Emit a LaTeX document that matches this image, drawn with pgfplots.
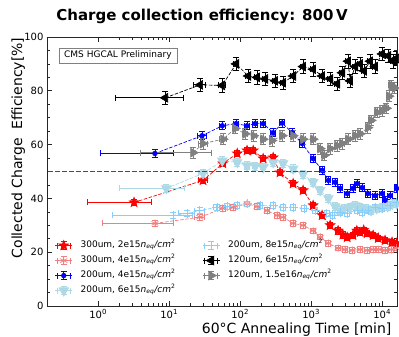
\documentclass[border=0pt]{standalone}
\usepackage{pgfplots}
\pgfplotsset{compat=1.18}
\usepackage{pgfplotstable}
\usepackage{fontspec}
\setmainfont{DejaVu Sans}
\usetikzlibrary{plotmarks}

\definecolor{cRed}{HTML}{FF0000}
\definecolor{cCoral}{HTML}{F08080}
\definecolor{cBlue}{HTML}{0000FF}
\definecolor{cLBlue}{HTML}{ADD8E6}
\definecolor{cSky}{HTML}{87CEFA}
\definecolor{cGrey}{HTML}{808080}

% filled five-pointed star
\pgfdeclareplotmark{fstar}{%
  \pgfpathmoveto{\pgfpointpolar{90}{\pgfplotmarksize}}%
  \pgfpathlineto{\pgfpointpolar{126}{0.42\pgfplotmarksize}}%
  \pgfpathlineto{\pgfpointpolar{162}{\pgfplotmarksize}}%
  \pgfpathlineto{\pgfpointpolar{198}{0.42\pgfplotmarksize}}%
  \pgfpathlineto{\pgfpointpolar{234}{\pgfplotmarksize}}%
  \pgfpathlineto{\pgfpointpolar{270}{0.42\pgfplotmarksize}}%
  \pgfpathlineto{\pgfpointpolar{306}{\pgfplotmarksize}}%
  \pgfpathlineto{\pgfpointpolar{342}{0.42\pgfplotmarksize}}%
  \pgfpathlineto{\pgfpointpolar{18}{\pgfplotmarksize}}%
  \pgfpathlineto{\pgfpointpolar{54}{0.42\pgfplotmarksize}}%
  \pgfpathclose
  \pgfusepathqfillstroke}

% one dash of the reference level: a filled 5pt x 1.5pt bar
\pgfdeclareplotmark{dashseg}{%
  \pgfpathrectangle{\pgfpoint{-2.5pt}{-0.75pt}}{\pgfpoint{5pt}{1.5pt}}%
  \pgfusepathqfill}

\newcommand{\flu}{\textit{n}\textsubscript{\textit{eq}}\textit{/cm}\textsuperscript{2}}

% annealing time [min], efficiency [%], relative time uncertainty
\pgfplotstableread{
t v ex
3.2 38.5 0.78
30 46.7 0.15
57 53.0 0.10
91 56.7 0.08
125 57.8 0.08
153 57.8 0.08
211 54.8 0.08
292 55.2 0.08
364 49.6 0.08
558 45.5 0.08
771 43.0 0.08
1067 37.4 0.08
1428 33.7 0.08
1853 30.0 0.08
2396 28.0 0.08
2800 26.5 0.08
3220 25.5 0.08
3880 26.3 0.08
4400 28.0 0.08
4900 27.4 0.08
5500 28.2 0.08
6150 27.0 0.08
7470 26.3 0.08
8820 25.2 0.08
11000 24.4 0.08
13800 23.7 0.08
16000 23.3 0.08
}\tRedA

\pgfplotstableread{
t v ex
6.3 30.7 0.82
27 33.0 0.15
57 36.3 0.10
80 36.7 0.08
125 38.0 0.08
173 37.0 0.08
240 35.5 0.08
332 33.7 0.08
403 33.0 0.08
558 30.7 0.08
771 30.0 0.08
1067 28.0 0.08
1340 25.6 0.08
1750 23.3 0.08
2400 21.5 0.08
3000 21.0 0.08
3800 20.7 0.08
4900 21.0 0.08
6150 20.7 0.08
7470 21.0 0.08
9000 21.0 0.08
11000 20.7 0.08
13500 21.0 0.08
16000 21.5 0.08
}\tCoral

\pgfplotstableread{
t v ex
6.3 56.7 0.83
29 63.3 0.15
56 67.0 0.10
88 67.8 0.08
125 67.0 0.08
163 67.8 0.08
211 67.8 0.08
292 64.4 0.08
391 68.0 0.08
540 64.4 0.08
747 60.4 0.08
1067 54.8 0.08
1428 50.4 0.08
1750 46.7 0.08
2178 46.0 0.08
2560 43.7 0.08
3220 41.8 0.08
3880 43.7 0.08
4445 45.5 0.08
5220 44.0 0.08
6300 41.8 0.08
7960 41.0 0.08
10000 41.8 0.08
10950 39.3 0.08
12900 41.0 0.08
16000 43.7 0.08
}\tBlue

\pgfplotstableread{
t v ex
9.1 43.7 0.78
30 49.3 0.15
56 54.0 0.10
91 53.4 0.08
125 52.2 0.08
163 52.0 0.08
211 51.5 0.08
292 53.4 0.08
403 53.0 0.08
558 51.0 0.08
771 49.0 0.08
1067 46.0 0.08
1340 43.0 0.08
1750 40.0 0.08
2180 37.0 0.08
2560 35.5 0.08
2900 36.3 0.08
3500 36.7 0.08
4200 37.4 0.08
4900 36.7 0.08
5900 36.3 0.08
7000 35.5 0.08
8400 36.3 0.08
10000 36.7 0.08
12000 37.0 0.08
14000 38.0 0.08
16000 38.0 0.08
}\tLBlue

\pgfplotstableread{
t v ex
11.3 33.7 0.86
18 34.4 0.25
27 35.5 0.15
47 36.7 0.10
66 37.0 0.08
91 37.4 0.08
125 38.0 0.08
190 37.4 0.08
292 37.4 0.08
403 36.7 0.08
558 36.7 0.08
800 36.3 0.08
1150 35.5 0.08
1650 34.4 0.08
2000 33.7 0.08
2560 34.8 0.08
3220 34.4 0.08
4445 35.5 0.08
5220 34.8 0.08
6300 35.5 0.08
7960 36.7 0.08
10000 36.3 0.08
12900 37.4 0.08
16000 38.5 0.08
}\tSky

\pgfplotstableread{
t v ex
8.8 77.4 0.80
27.3 82.2 0.20
55.8 82.0 0.12
87.8 90.0 0.08
130 85.5 0.08
173 85.0 0.08
225 84.4 0.08
311 83.7 0.08
403 83.0 0.08
558 85.5 0.08
771 89.0 0.08
1067 88.0 0.08
1428 85.5 0.08
1853 84.4 0.08
2325 82.6 0.08
2735 86.7 0.08
3320 91.0 0.08
3540 83.7 0.08
4170 89.0 0.08
4900 90.0 0.08
5575 87.4 0.08
6775 91.0 0.08
7960 89.0 0.08
10000 93.7 0.08
12160 93.0 0.08
14290 91.0 0.08
15740 92.0 0.08
}\tBlack

\pgfplotstableread{
t v ex
21.8 57.0 0.82
30 60.4 0.15
57.5 62.0 0.10
85 66.0 0.08
118 64.0 0.08
155 63.3 0.08
211 62.0 0.08
280 61.5 0.08
391 63.3 0.08
558 63.3 0.08
771 62.0 0.08
1067 62.0 0.08
1340 58.5 0.08
1530 56.0 0.08
1850 58.5 0.08
2330 59.6 0.08
2735 60.4 0.08
3320 62.0 0.08
4170 63.3 0.08
4900 64.0 0.08
6300 66.3 0.08
7000 69.0 0.08
8500 72.0 0.08
10000 72.6 0.08
11500 73.5 0.08
12500 78.0 0.08
13500 82.0 0.08
15000 81.0 0.08
}\tGrey

% 50 % reference level, one row per dash (dash centres, evenly spaced on the log axis)
\pgfplotstableread{
t v
0.2129 50
0.2671 50
0.3352 50
0.4206 50
0.5278 50
0.6623 50
0.8311 50
1.0429 50
1.3086 50
1.6421 50
2.0617 50
2.5855 50
3.2443 50
4.0710 50
5.1083 50
6.4099 50
8.0431 50
10.093 50
12.664 50
15.891 50
19.971 50
25.021 50
31.396 50
39.396 50
49.434 50
62.030 50
77.835 50
97.667 50
122.55 50
153.78 50
193.44 50
242.13 50
303.83 50
381.24 50
478.38 50
600.27 50
753.22 50
945.14 50
1186.0 50
1488.1 50
1873.6 50
2343.1 50
2940.1 50
3689.2 50
4629.3 50
5808.8 50
7288.9 50
9146.1 50
11477 50
14461 50
}\tHalf

\pgfplotsset{
  ser/.style={line width=0.7pt, dash pattern=on 3.5pt off 1.6pt,
    mark options={solid},
    error bars/x dir=both, error bars/x explicit relative,
    error bars/y dir=both,
    error bars/error bar style={solid, line width=0.8pt},
    error bars/error mark options={rotate=90, solid, line width=0.8pt, mark size=3pt}},
}

\begin{document}
\begin{tikzpicture}
\begin{axis}[
  name=main,
  xmode=log,
  scale only axis,
  width=350pt, height=269pt,
  xmin=0.19, xmax=16200,
  ymin=0, ymax=100,
  ytick={0,20,40,60,80,100},
  minor y tick num=3,
  xtick={1,10,100,1000,10000},
  xticklabels={10\textsuperscript{0},10\textsuperscript{1},10\textsuperscript{2},10\textsuperscript{3},10\textsuperscript{4}},
  tick align=inside,
  major tick length=5pt, minor tick length=2.8pt,
  every tick/.style={black!85, line width=0.6pt},
  axis line style={black!85, line width=0.9pt},
  tick label style={font=\fontsize{10}{12}\selectfont},
  /pgf/number format/assume math mode=true,
  legend style={at={(0.022,0.141)}, anchor=west, draw=none, fill=none,
    font=\fontsize{9}{11}\selectfont, inner sep=0pt, row sep=3.5pt,
    nodes={inner sep=1pt, text height=7pt, text depth=2.5pt},
    /tikz/every odd column/.append style={column sep=7pt},
    /tikz/every even column/.append style={column sep=26pt}},
  legend columns=4, transpose legend,
  legend cell align=left,
  legend image code/.code={%
    \draw[#1, mark=none] (0pt,0pt) -- (17pt,0pt);
    \draw[#1, mark=none, solid, line width=0.8pt] (2pt,-3pt) -- (2pt,3pt) (15pt,-3pt) -- (15pt,3pt)
       (2pt,0pt) -- (15pt,0pt) (8.5pt,-4pt) -- (8.5pt,4pt) (5.5pt,-4pt) -- (11.5pt,-4pt) (5.5pt,4pt) -- (11.5pt,4pt);
    \draw[#1] plot coordinates {(8.5pt,0pt)};
  },
]
\addplot[ser, cRed, mark=fstar, mark size=5pt, error bars/y fixed=1.2]
  table[x=t, y=v, x error=ex] {\tRedA};
\addlegendentry{300um, 2e15\flu}
\addplot[ser, cCoral, mark=asterisk, mark size=4pt, error bars/y fixed=1.0]
  table[x=t, y=v, x error=ex] {\tCoral};
\addlegendentry{300um, 4e15\flu}
\addplot[ser, cBlue, mark=*, mark size=2.3pt, error bars/y fixed=1.5]
  table[x=t, y=v, x error=ex] {\tBlue};
\addlegendentry{200um, 4e15\flu}
\addplot[ser, cLBlue, mark=triangle*, mark size=5.5pt, mark options={solid, rotate=180}, error bars/y fixed=1.5]
  table[x=t, y=v, x error=ex] {\tLBlue};
\addlegendentry{200um, 6e15\flu}
\addplot[ser, cSky, mark=+, mark size=4.5pt, error bars/y fixed=1.0]
  table[x=t, y=v, x error=ex] {\tSky};
\addlegendentry{200um, 8e15\flu}
\addplot[ser, black, mark=triangle*, mark size=5pt, mark options={solid, rotate=90}, error bars/y fixed=2.5]
  table[x=t, y=v, x error=ex] {\tBlack};
\addlegendentry{120um, 6e15\flu}
\addplot[ser, cGrey, mark=triangle*, mark size=5pt, mark options={solid, rotate=-90}, error bars/y fixed=2.0]
  table[x=t, y=v, x error=ex] {\tGrey};
\addlegendentry{120um, 1.5e16\flu}
\addplot[forget plot, only marks, cRed, mark=dashseg, mark options={fill=cRed, draw=none}]
  table[x=t, y=v] {\tHalf};
\end{axis}
\node[draw=gray, fill=white, anchor=west, font=\fontsize{9}{11}\selectfont, inner xsep=5pt, inner ysep=3pt]
  at ([xshift=12pt, yshift=-18.5pt]main.north west) {CMS HGCAL Preliminary};
\node[anchor=base, font=\fontsize{15}{18}\bfseries\selectfont]
  at ([xshift=155pt, yshift=16pt]main.north west) {Charge collection efficiency: 800\,V};
\node[anchor=base east, font=\fontsize{14}{17}\selectfont]
  at ([xshift=-2pt, yshift=-28pt]main.south east) {60°C Annealing Time [min]};
\node[anchor=base, rotate=90, font=\fontsize{14}{17}\selectfont]
  at ([xshift=-25pt, yshift=158pt]main.south west) {Collected Charge\ \ Efficiency[\%]};
\pgfresetboundingbox
\path ([shift={(-47pt,-31pt)}]main.south west) rectangle ([shift={(2pt,37pt)}]main.north east);
\end{tikzpicture}
\end{document}
